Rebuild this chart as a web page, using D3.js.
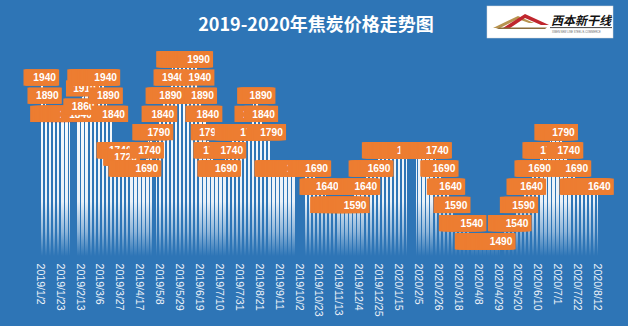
<!DOCTYPE html>
<html>
<head>
<meta charset="utf-8">
<script src="https://cdn.jsdelivr.net/npm/d3@7"></script>
<style>
  html, body { margin: 0; padding: 0; background: #2E75B6; }
  svg { display: block; }
</style>
</head>
<body>
<svg id="chart" width="628" height="326"></svg>
<script>
// ---- data -------------------------------------------------------------
const chartTitle = "2019-2020年焦炭价格走势图";
const firstDay = "2019-01-02";
const lastDay = "2020-08-12";

// price adjustment log (yuan/t): each trading day carries the latest price
const adjustDates = [
  "2019-01-02","2019-01-07","2019-01-09","2019-02-13","2019-02-15","2019-02-18",
  "2019-03-12","2019-03-14","2019-03-20","2019-03-27","2019-04-02","2019-04-24",
  "2019-04-26","2019-05-07","2019-05-10","2019-05-20","2019-05-22","2019-06-18",
  "2019-06-19","2019-06-21","2019-06-27","2019-07-01","2019-07-04","2019-07-17",
  "2019-07-23","2019-08-13","2019-08-15","2019-08-22","2019-08-26","2019-09-03",
  "2019-10-21","2019-10-31","2019-11-29","2019-12-11","2019-12-25","2020-02-25",
  "2020-03-03","2020-03-10","2020-03-16","2020-04-01","2020-05-06","2020-05-19",
  "2020-05-26","2020-06-03","2020-06-11","2020-06-24","2020-07-07","2020-07-13",
  "2020-07-21"
];
const adjustPrices = [
  1940, 1890, 1840, 1860, 1910, 1940,
  1890, 1840, 1740, 1720, 1690, 1740,
  1790, 1840, 1890, 1940, 1990, 1940,
  1890, 1840, 1790, 1740, 1690, 1740,
  1790, 1840, 1890, 1840, 1790, 1690,
  1640, 1590, 1640, 1690, 1740, 1690,
  1640, 1590, 1540, 1490, 1540, 1590,
  1640, 1690, 1740, 1790, 1740, 1690,
  1640
];

// market holidays: weekdays without a quote
const closedFrom = ["2019-02-04","2019-05-01","2019-10-01","2020-01-01","2020-01-24","2020-05-01"];
const closedTo   = ["2019-02-08","2019-05-03","2019-10-07","2020-01-01","2020-02-03","2020-05-05"];

// date labels on the category axis
const tickLabels = [
  "2019/1/2","2019/1/23","2019/2/13","2019/3/6","2019/3/27","2019/4/17","2019/5/8",
  "2019/5/29","2019/6/19","2019/7/10","2019/7/31","2019/8/21","2019/9/11","2019/10/2",
  "2019/10/23","2019/11/13","2019/12/4","2019/12/25","2020/1/15","2020/2/5","2020/2/26",
  "2020/3/18","2020/4/8","2020/4/29","2020/5/20","2020/6/10","2020/7/1","2020/7/22",
  "2020/8/12"
];

// ---- build the daily table --------------------------------------------
const parseISO = d3.timeParse("%Y-%m-%d");
const parseSlash = d3.timeParse("%Y/%m/%d");
const keyFmt = d3.timeFormat("%Y-%m-%d");

const start = parseISO(firstDay);
const end = parseISO(lastDay);
// category axis: every weekday in the period
const categories = d3.timeDay.range(start, d3.timeDay.offset(end, 1))
  .filter(d => d.getDay() !== 0 && d.getDay() !== 6)
  .map(keyFmt);

const adjTimes = adjustDates.map(s => +parseISO(s));
const closed = closedFrom.map((f, i) => [+parseISO(f), +parseISO(closedTo[i])]);
const isClosed = t => closed.some(([a, b]) => t >= a && t <= b);

const daily = categories
  .map(key => {
    const t = +parseISO(key);
    if (isClosed(t)) return null;
    const i = d3.bisectRight(adjTimes, t) - 1;
    return i < 0 ? null : { key, value: adjustPrices[i] };
  })
  .filter(d => d);

// ---- layout -----------------------------------------------------------
const svg = d3.select("#chart");
const W = 628, H = 326;

svg.append("rect").attr("width", W).attr("height", H).attr("fill", "#2E75B6");

const x = d3.scalePoint().domain(categories).range([40, 597.3]);
const y = d3.scaleLinear().domain([1450, 1990]).range([264.3, 67.7]);
const barW = x.step() * 0.6;

// white bars fading into the background towards the axis
const defs = svg.append("defs");
const grad = defs.append("linearGradient")
  .attr("id", "barFade")
  .attr("gradientUnits", "userSpaceOnUse")
  .attr("x1", 0).attr("x2", 0).attr("y1", 60).attr("y2", 262);
grad.append("stop").attr("offset", "0%").attr("stop-color", "#ffffff").attr("stop-opacity", 1);
grad.append("stop").attr("offset", "70%").attr("stop-color", "#ffffff").attr("stop-opacity", 0.9);
grad.append("stop").attr("offset", "85%").attr("stop-color", "#dfeaf5").attr("stop-opacity", 0.55);
grad.append("stop").attr("offset", "97%").attr("stop-color", "#cfe0f0").attr("stop-opacity", 0);

svg.append("g")
  .attr("shape-rendering", "crispEdges")
  .selectAll("rect")
  .data(daily)
  .join("rect")
  .attr("x", d => x(d.key) - barW / 2)
  .attr("width", barW)
  .attr("y", d => y(d.value))
  .attr("height", d => y.range()[0] - y(d.value))
  .attr("fill", "url(#barFade)");

// value labels: an orange tag above every bar; consecutive tags of the same
// price stack into one strip, so only the tag whose digits stay uncovered
// by the next tag gets its text
const boxW = 33, boxH = 16.2, textShift = 2, textHalf = 11;
const labels = svg.append("g").attr("class", "labels");
daily.forEach((d, i) => {
  const cx = x(d.key), top = y(d.value) - boxH - 0.3;
  labels.append("rect")
    .attr("x", cx - boxW / 2).attr("y", top)
    .attr("width", boxW).attr("height", boxH)
    .attr("fill", "#ED7D31");
  const next = daily[i + 1];
  const covered = next && next.value === d.value &&
    x(next.key) - boxW / 2 <= cx + textShift - textHalf;
  if (covered) return;
  labels.append("text")
    .attr("x", cx + textShift).attr("y", top + boxH / 2)
    .attr("dy", "0.36em")
    .attr("text-anchor", "middle")
    .attr("fill", "#ffffff")
    .attr("font-family", "'Liberation Sans', Arial, sans-serif")
    .attr("font-weight", "bold")
    .attr("font-size", 10.2)
    .text(d.value);
});

// category axis with vertical date labels
const tickKeys = tickLabels.map(s => keyFmt(parseSlash(s)));
const tickText = new Map(tickKeys.map((k, i) => [k, tickLabels[i]]));
const axis = d3.axisBottom(x)
  .tickValues(tickKeys)
  .tickSize(0)
  .tickFormat(k => tickText.get(k));
const gx = svg.append("g").attr("transform", "translate(0,262)").call(axis);
gx.select(".domain").remove();
gx.selectAll("text")
  .attr("transform", "rotate(90)")
  .attr("x", 1.5).attr("y", 0).attr("dy", "0.35em")
  .attr("text-anchor", "start")
  .attr("fill", "#eef3f9")
  .attr("font-family", "'Liberation Sans', Arial, sans-serif")
  .attr("font-size", 10.6);

// title
svg.append("text")
  .attr("x", 316).attr("y", 31)
  .attr("text-anchor", "middle")
  .attr("fill", "#ffffff")
  .attr("font-family", "'Noto Sans CJK SC', sans-serif")
  .attr("font-weight", "bold")
  .attr("font-size", 18)
  .text(chartTitle);

// logo badge
const logo = svg.append("g");
logo.append("rect").attr("x", 487).attr("y", 6).attr("width", 126).attr("height", 32)
  .attr("fill", "#ffffff").attr("stroke", "#d9d9d9").attr("stroke-width", 0.5);
logo.append("path")
  .attr("d", "M493,28 L518,16 L534,23 L529,23 L518,19 L500,28 Z")
  .attr("fill", "#b8934f");
logo.append("path")
  .attr("d", "M503,28 L525,14 L549,25 L541,25 L525,18 L510,28 Z")
  .attr("fill", "#c0262d");
logo.append("path")
  .attr("d", "M496,29 L545,29 L547,27.5 L500,27.5 Z")
  .attr("fill", "#8a6a3a");
logo.append("text")
  .attr("x", 551).attr("y", 25)
  .attr("fill", "#111111")
  .attr("font-family", "'Noto Sans CJK SC', sans-serif")
  .attr("font-weight", "bold")
  .attr("font-size", 12)
  .attr("font-style", "italic")
  .text("西本新干线");
logo.append("line").attr("x1", 550).attr("x2", 612).attr("y1", 27.6).attr("y2", 27.6)
  .attr("stroke", "#111111").attr("stroke-width", 0.8);
logo.append("text")
  .attr("x", 552).attr("y", 32.5)
  .attr("fill", "#666666")
  .attr("font-family", "'Liberation Sans', Arial, sans-serif")
  .attr("font-size", 2.6)
  .text("XIBEN NEW LINE  STEEL E-COMMERCE");
</script>
</body>
</html>
